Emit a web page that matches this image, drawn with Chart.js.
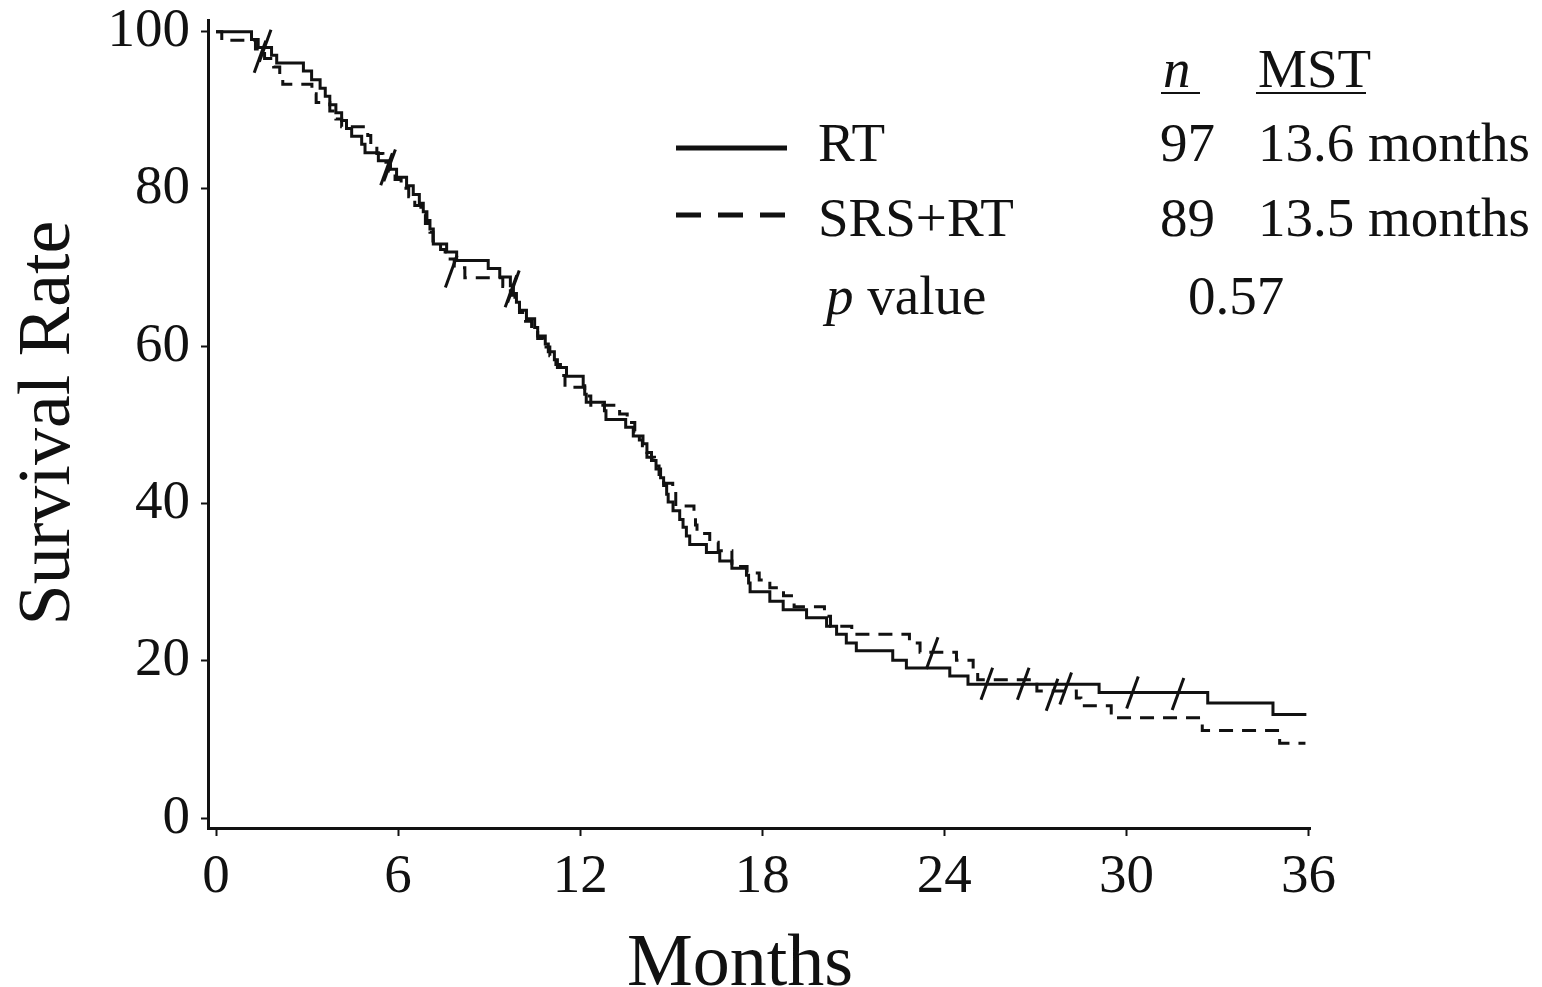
<!DOCTYPE html>
<html><head><meta charset="utf-8">
<script src="https://cdn.jsdelivr.net/npm/chart.js@4.4.1/dist/chart.umd.min.js"></script>
<style>html,body{margin:0;padding:0;background:#fff;}</style>
</head><body>
<canvas id="c" width="1542" height="987"></canvas>
<script>
// ---- data ----
const rtTimes = [0,1.17,1.39,1.83,2.0,2.88,3.15,3.43,3.6,3.75,3.95,4.14,4.3,4.47,4.8,4.91,5.35,5.75,5.95,6.28,6.5,6.7,6.83,6.95,7.05,7.16,7.6,7.93,8.97,9.35,9.7,9.8,9.9,10.0,10.23,10.5,10.6,10.85,10.95,11.15,11.25,11.55,12.1,12.15,12.2,12.8,12.85,13.5,13.75,14.07,14.2,14.35,14.5,14.65,14.75,14.85,14.9,15.06,15.28,15.39,15.5,15.61,16.16,16.6,17.0,17.48,17.55,17.6,18.25,18.69,19.46,20.12,20.45,20.77,21.1,22.3,22.75,24.18,24.78,29.1,32.68,34.83,35.93];
const rtSurv  = [100,99.0,98.0,97.0,96.0,95.0,93.9,92.8,91.8,90.7,89.7,88.7,87.7,86.7,85.7,84.6,83.6,82.5,81.5,80.4,79.3,78.2,77.1,76.0,74.9,73.0,72.0,70.9,69.9,68.8,67.7,66.7,65.6,64.6,63.5,62.4,61.3,60.3,59.3,58.3,57.3,56.2,55.0,53.9,52.9,51.8,50.7,49.7,48.6,47.6,46.5,45.5,44.4,43.3,42.3,41.2,40.2,39.1,38.0,37.0,35.9,34.8,33.8,32.7,31.8,30.9,29.9,28.8,27.6,26.5,25.5,24.4,23.4,22.3,21.3,20.1,19.1,18.1,17.05,16.0,14.65,13.2,13.2];
const srsTimes = [0,0.19,1.3,1.6,1.9,2.1,2.2,3.16,3.3,3.75,3.95,4.14,5.0,5.1,5.3,5.5,5.7,5.9,6.1,6.35,6.55,6.75,6.9,7.05,7.15,7.4,7.55,7.85,8.2,9.45,9.7,9.85,10.0,10.2,10.4,10.6,10.8,11.0,11.2,11.35,11.5,12.15,12.35,13.3,13.55,13.8,13.95,14.05,14.2,14.45,14.6,14.75,15.05,15.15,15.75,15.8,15.85,16.27,16.55,17.0,17.5,17.9,18.25,18.7,19.05,20.05,20.25,20.95,22.85,23.2,24.4,24.95,25.1,27.05,28.35,28.5,29.5,32.5,35.05,35.9];
const srsSurv  = [100,98.9,97.8,96.6,95.5,94.4,93.3,92.1,91.0,89.9,88.9,87.9,86.8,85.6,84.5,83.4,82.3,81.2,80.1,79.0,77.9,76.8,75.6,74.5,73.4,72.3,71.1,70.0,68.7,67.6,66.5,65.4,64.3,63.2,62.1,61.0,59.9,58.8,57.7,56.3,54.8,53.7,52.5,51.4,50.3,49.2,48.1,47.0,45.9,44.8,43.7,42.6,41.5,39.7,38.6,37.3,36.2,35.1,34.0,32.0,31.2,30.3,29.3,28.3,26.9,25.7,24.4,23.4,22.3,21.1,20.1,18.9,17.6,16.2,15.3,14.3,12.8,11.15,9.55,9.55];
const rtCensorT  = [1.62,5.72,9.8,25.4,26.6,28.0,30.2,31.7];
const rtCensorS  = [98.2,83.0,67.6,17.1,17.1,16.5,16.0,15.8];
const srsCensorT = [1.45,5.62,7.75,9.72,23.6,27.55];
const srsCensorS = [96.8,82.5,69.5,67.0,21.0,15.7];
const xTickValues = [0,6,12,18,24,30,36];
const xTickLabels = ['0','6','12','18','24','30','36'];
const yTickValues = [0,20,40,60,80,100];
const yTickLabels = ['0','20','40','60','80','100'];
const seriesNames = ['RT','SRS+RT'];
const seriesN = ['97','89'];
const seriesMST = ['13.6 months','13.5 months'];
const headerN = 'n';
const headerMST = 'MST';
const pLabel = ['p',' value'];
const pValue = '0.57';
const xTitle = 'Months';
const yTitle = 'Survival Rate';

// ---- chart ----
const INK = '#111';
const SERIF = '"Liberation Serif", "Times New Roman", serif';
const pts = (t, s) => t.map((v, i) => ({x: v, y: s[i]}));

const annot = {
  id: 'annot',
  afterDraw(chart) {
    const ctx = chart.ctx;
    ctx.save();
    ctx.fillStyle = INK; ctx.strokeStyle = INK;
    ctx.textBaseline = 'alphabetic'; ctx.textAlign = 'left';
    // header
    ctx.font = 'italic 55px ' + SERIF;
    ctx.fillText(headerN, 1163, 87);
    ctx.font = '55px ' + SERIF;
    ctx.fillText(headerMST, 1258, 87);
    ctx.lineWidth = 2;
    ctx.beginPath(); ctx.moveTo(1161, 93); ctx.lineTo(1200, 93); ctx.stroke();
    ctx.beginPath(); ctx.moveTo(1256, 93); ctx.lineTo(1366, 93); ctx.stroke();
    // rows
    const rowBase = [161, 236];
    const lineY = [148, 215];
    for (let i = 0; i < seriesNames.length; i++) {
      ctx.lineWidth = 5;
      ctx.setLineDash(i === 0 ? [] : [25, 17]);
      ctx.beginPath(); ctx.moveTo(676, lineY[i]); ctx.lineTo(787, lineY[i]); ctx.stroke();
      ctx.setLineDash([]);
      ctx.fillText(seriesNames[i], 818, rowBase[i]);
      ctx.fillText(seriesN[i], 1160, rowBase[i]);
      ctx.fillText(seriesMST[i], 1258, rowBase[i]);
    }
    ctx.font = 'italic 55px ' + SERIF;
    ctx.fillText(pLabel[0], 826, 314);
    const pw = ctx.measureText(pLabel[0]).width;
    ctx.font = '55px ' + SERIF;
    ctx.fillText(pLabel[1], 826 + pw, 314);
    ctx.fillText(pValue, 1188, 314);
    // axis titles
    ctx.font = '74px ' + SERIF;
    ctx.textAlign = 'center';
    ctx.fillText(xTitle, 740, 985);
    ctx.translate(69, 423);
    ctx.rotate(-Math.PI / 2);
    ctx.fillText(yTitle, 0, 0);
    ctx.restore();
  }
};

new Chart(document.getElementById('c'), {
  type: 'line',
  data: {
    datasets: [
      {label: seriesNames[0], data: pts(rtTimes, rtSurv), stepped: 'before', borderColor: INK, borderWidth: 3, pointRadius: 0, fill: false},
      {label: seriesNames[1], data: pts(srsTimes, srsSurv), stepped: 'before', borderColor: INK, borderWidth: 3, borderDash: [14, 9], pointRadius: 0, fill: false},
      {type: 'scatter', label: 'RT censored', data: pts(rtCensorT, rtCensorS), showLine: false, pointStyle: 'line', rotation: -70, pointRadius: 17, borderColor: INK, pointBorderColor: INK, pointBorderWidth: 3},
      {type: 'scatter', label: 'SRS+RT censored', data: pts(srsCensorT, srsCensorS), showLine: false, pointStyle: 'line', rotation: -70, pointRadius: 17, borderColor: INK, pointBorderColor: INK, pointBorderWidth: 3}
    ]
  },
  options: {
    responsive: false, animation: false, devicePixelRatio: 1,
    layout: {padding: {left: 0, top: 15, right: 232, bottom: 0}},
    plugins: {legend: {display: false}, tooltip: {enabled: false}},
    scales: {
      x: {
        type: 'linear', min: -0.264, max: 36.05,
        afterBuildTicks: s => { s.ticks = xTickValues.map(v => ({value: v})); },
        afterFit: s => { s.height = 159; s.paddingLeft = 0; s.paddingRight = 0; },
        grid: {display: true, drawOnChartArea: false, drawTicks: true, tickLength: 8, tickWidth: 2, tickColor: INK},
        border: {display: true, color: INK, width: 3},
        ticks: {font: {family: SERIF, size: 55}, color: INK, padding: 9, maxRotation: 0, autoSkip: false,
                callback: v => xTickLabels[xTickValues.indexOf(v)]}
      },
      y: {
        type: 'linear', min: -1.23, max: 101.48,
        afterBuildTicks: s => { s.ticks = yTickValues.map(v => ({value: v})); },
        afterFit: s => { s.width = 208; s.paddingTop = 0; s.paddingBottom = 0; },
        grid: {display: true, drawOnChartArea: false, drawTicks: true, tickLength: 7, tickWidth: 2, tickColor: INK},
        border: {display: true, color: INK, width: 3},
        ticks: {font: {family: SERIF, size: 55}, color: INK, padding: 11, autoSkip: false,
                callback: v => yTickLabels[yTickValues.indexOf(v)]}
      }
    }
  },
  plugins: [annot]
});
</script>
</body></html>
